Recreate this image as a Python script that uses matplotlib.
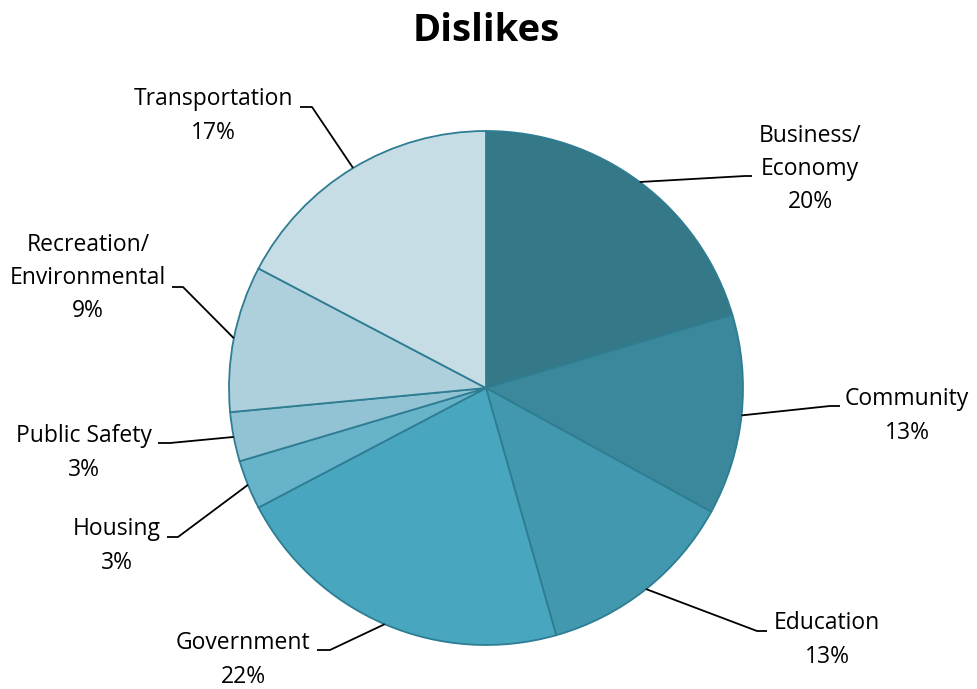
import numpy as np
import matplotlib.pyplot as plt

categories = ['Business/\nEconomy', 'Community', 'Education', 'Government',
              'Housing', 'Public Safety', 'Recreation/\nEnvironmental', 'Transportation']
shares = [20.4, 12.6, 12.6, 21.7, 3.1, 3.1, 9.2, 17.3]
colors = ['#357888', '#3b889c', '#4298af', '#48a6bf',
          '#67b3ca', '#92c3d5', '#add0dc', '#c6dde5']

# label layout in pixels: text centre (x, y), elbow (x, y), end of short horizontal
label_pos = [(810, 169), (907, 416), (827, 640), (243, 660),
             (117, 546), (84, 453), (88, 278), (213, 116)]
elbows = [(745, 176), (830, 406), (757, 631), (330, 650),
          (178, 537), (170, 443), (183, 287), (312, 107)]
ends = [752, 840, 767, 317, 167, 158, 172, 300]

W, H = 977, 689
plt.rcParams['font.family'] = ['Open Sans', 'DejaVu Sans']

fig = plt.figure(figsize=(W / 100, H / 100), dpi=100)
ax = fig.add_axes([0, 0, 1, 1])


def py(y):
    return H - y


cx, cy, r = 486, py(388), 257
wedges, _ = ax.pie(shares, colors=colors, startangle=90, counterclock=False,
                   center=(cx, cy), radius=r, frame=True,
                   wedgeprops=dict(edgecolor='#2f7d93', linewidth=1.3))
ax.set_xlim(0, W)
ax.set_ylim(0, H)
ax.set_aspect('equal')
ax.axis('off')

for w, cat, share, (tx, ty), (ex, ey), end in zip(wedges, categories, shares,
                                                   label_pos, elbows, ends):
    mid = np.deg2rad((w.theta1 + w.theta2) / 2)
    px, pyy = cx + r * np.cos(mid), cy + r * np.sin(mid)
    ax.plot([px, ex, end], [pyy, py(ey), py(ey)], color='black', lw=1.3,
            solid_capstyle='butt')
    ax.text(tx, py(ty), f'{cat}\n{round(share)}%', ha='center', va='center',
            fontsize=16.5, linespacing=1.52, color='black')

ax.text(W / 2 - 2, py(31), 'Dislikes', ha='center', va='center',
        fontsize=27.5, fontweight='bold')

fig.savefig('out.png', dpi=100)
